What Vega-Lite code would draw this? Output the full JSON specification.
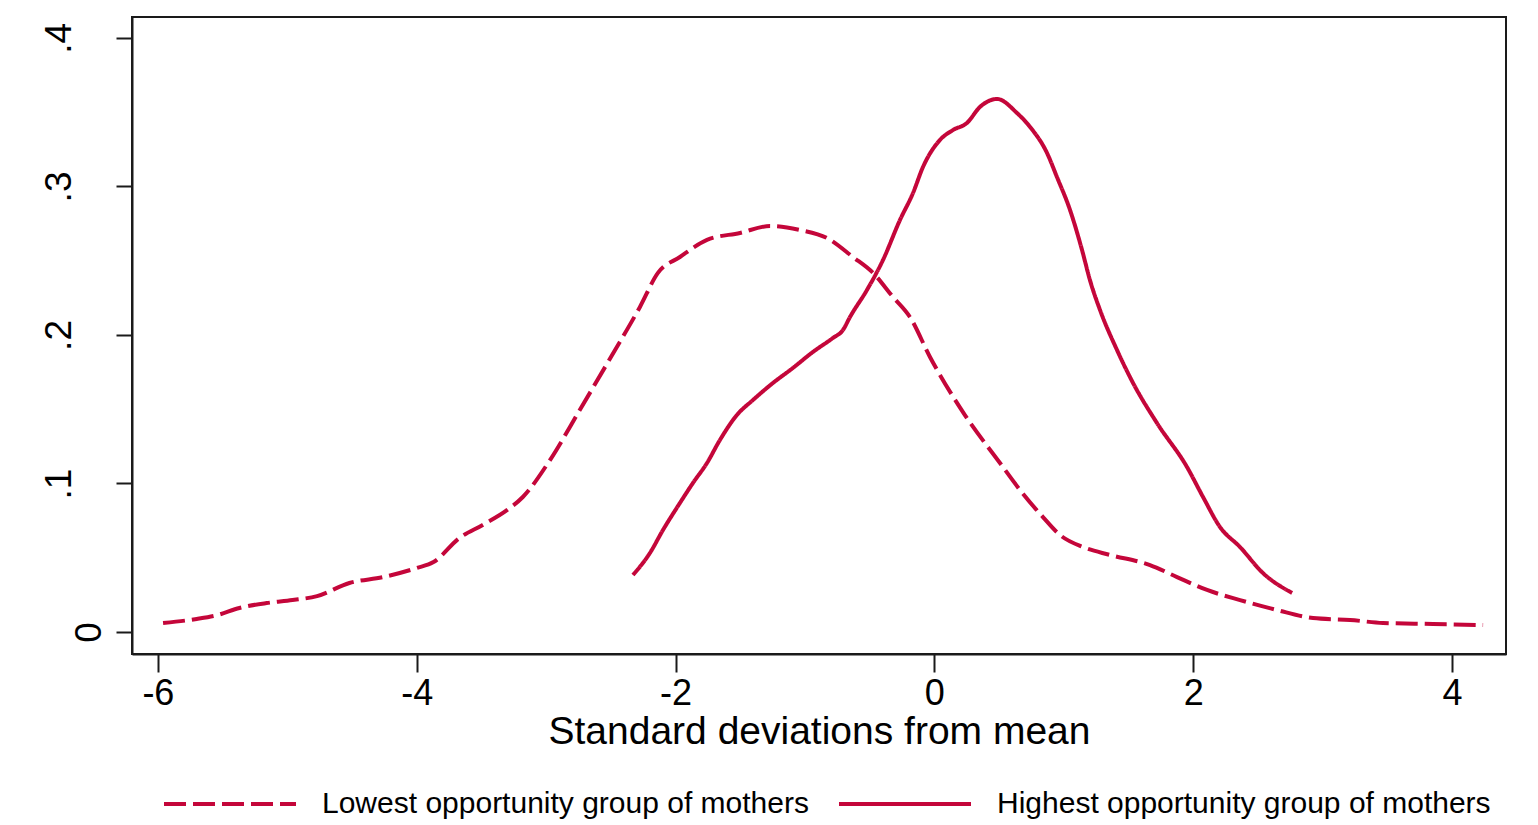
{
  "$schema": "https://vega.github.io/schema/vega-lite/v6.json",
  "width": 1374,
  "height": 637,
  "autosize": {"type": "none"},
  "padding": {"left": 132, "top": 17, "right": 32, "bottom": 171},
  "background": "#ffffff",
  "config": {
    "font": "Liberation Sans",
    "view": {"stroke": "#1a1a1a", "strokeWidth": 2},
    "axis": {"grid": false, "domainColor": "#1a1a1a", "domainWidth": 2, "tickColor": "#1a1a1a", "tickWidth": 2, "labelColor": "#000000", "titleColor": "#000000", "labelFont": "Liberation Sans", "titleFont": "Liberation Sans"},
    "legend": {"labelFont": "Liberation Sans"}
  },
  "data": {
    "values": [
      {"group": "Lowest opportunity group of mothers", "x": -5.96, "y": 0.0061},
      {"group": "Lowest opportunity group of mothers", "x": -5.70, "y": 0.0088},
      {"group": "Lowest opportunity group of mothers", "x": -5.54, "y": 0.0114},
      {"group": "Lowest opportunity group of mothers", "x": -5.37, "y": 0.0162},
      {"group": "Lowest opportunity group of mothers", "x": -5.16, "y": 0.0195},
      {"group": "Lowest opportunity group of mothers", "x": -4.96, "y": 0.0215},
      {"group": "Lowest opportunity group of mothers", "x": -4.77, "y": 0.0242},
      {"group": "Lowest opportunity group of mothers", "x": -4.52, "y": 0.0330},
      {"group": "Lowest opportunity group of mothers", "x": -4.26, "y": 0.0370},
      {"group": "Lowest opportunity group of mothers", "x": -4.00, "y": 0.0431},
      {"group": "Lowest opportunity group of mothers", "x": -3.87, "y": 0.0471},
      {"group": "Lowest opportunity group of mothers", "x": -3.67, "y": 0.0633},
      {"group": "Lowest opportunity group of mothers", "x": -3.49, "y": 0.0721},
      {"group": "Lowest opportunity group of mothers", "x": -3.30, "y": 0.0822},
      {"group": "Lowest opportunity group of mothers", "x": -3.18, "y": 0.0909},
      {"group": "Lowest opportunity group of mothers", "x": -2.97, "y": 0.1158},
      {"group": "Lowest opportunity group of mothers", "x": -2.74, "y": 0.1495},
      {"group": "Lowest opportunity group of mothers", "x": -2.49, "y": 0.1865},
      {"group": "Lowest opportunity group of mothers", "x": -2.275, "y": 0.2189},
      {"group": "Lowest opportunity group of mothers", "x": -2.136, "y": 0.2418},
      {"group": "Lowest opportunity group of mothers", "x": -1.966, "y": 0.2525},
      {"group": "Lowest opportunity group of mothers", "x": -1.757, "y": 0.2640},
      {"group": "Lowest opportunity group of mothers", "x": -1.502, "y": 0.2687},
      {"group": "Lowest opportunity group of mothers", "x": -1.27, "y": 0.2734},
      {"group": "Lowest opportunity group of mothers", "x": -1.039, "y": 0.2707},
      {"group": "Lowest opportunity group of mothers", "x": -0.83, "y": 0.2653},
      {"group": "Lowest opportunity group of mothers", "x": -0.629, "y": 0.2525},
      {"group": "Lowest opportunity group of mothers", "x": -0.474, "y": 0.2418},
      {"group": "Lowest opportunity group of mothers", "x": -0.32, "y": 0.2256},
      {"group": "Lowest opportunity group of mothers", "x": -0.189, "y": 0.2121},
      {"group": "Lowest opportunity group of mothers", "x": -0.034, "y": 0.1852},
      {"group": "Lowest opportunity group of mothers", "x": 0.236, "y": 0.1461},
      {"group": "Lowest opportunity group of mothers", "x": 0.507, "y": 0.1138},
      {"group": "Lowest opportunity group of mothers", "x": 0.662, "y": 0.0956},
      {"group": "Lowest opportunity group of mothers", "x": 0.839, "y": 0.0774},
      {"group": "Lowest opportunity group of mothers", "x": 0.971, "y": 0.0653},
      {"group": "Lowest opportunity group of mothers", "x": 1.148, "y": 0.0572},
      {"group": "Lowest opportunity group of mothers", "x": 1.357, "y": 0.0519},
      {"group": "Lowest opportunity group of mothers", "x": 1.666, "y": 0.0451},
      {"group": "Lowest opportunity group of mothers", "x": 1.875, "y": 0.0370},
      {"group": "Lowest opportunity group of mothers", "x": 2.107, "y": 0.0283},
      {"group": "Lowest opportunity group of mothers", "x": 2.362, "y": 0.0215},
      {"group": "Lowest opportunity group of mothers", "x": 2.648, "y": 0.0148},
      {"group": "Lowest opportunity group of mothers", "x": 2.926, "y": 0.0094},
      {"group": "Lowest opportunity group of mothers", "x": 3.212, "y": 0.0081},
      {"group": "Lowest opportunity group of mothers", "x": 3.467, "y": 0.0061},
      {"group": "Lowest opportunity group of mothers", "x": 3.853, "y": 0.0054},
      {"group": "Lowest opportunity group of mothers", "x": 4.24, "y": 0.0047},
      {"group": "Highest opportunity group of mothers", "x": -2.329, "y": 0.0384},
      {"group": "Highest opportunity group of mothers", "x": -2.198, "y": 0.0532},
      {"group": "Highest opportunity group of mothers", "x": -2.097, "y": 0.0687},
      {"group": "Highest opportunity group of mothers", "x": -1.966, "y": 0.0869},
      {"group": "Highest opportunity group of mothers", "x": -1.866, "y": 0.1003},
      {"group": "Highest opportunity group of mothers", "x": -1.757, "y": 0.1138},
      {"group": "Highest opportunity group of mothers", "x": -1.657, "y": 0.1293},
      {"group": "Highest opportunity group of mothers", "x": -1.526, "y": 0.1461},
      {"group": "Highest opportunity group of mothers", "x": -1.402, "y": 0.1562},
      {"group": "Highest opportunity group of mothers", "x": -1.247, "y": 0.1677},
      {"group": "Highest opportunity group of mothers", "x": -1.093, "y": 0.1778},
      {"group": "Highest opportunity group of mothers", "x": -0.938, "y": 0.1886},
      {"group": "Highest opportunity group of mothers", "x": -0.784, "y": 0.1980},
      {"group": "Highest opportunity group of mothers", "x": -0.706, "y": 0.2034},
      {"group": "Highest opportunity group of mothers", "x": -0.652, "y": 0.2121},
      {"group": "Highest opportunity group of mothers", "x": -0.521, "y": 0.2303},
      {"group": "Highest opportunity group of mothers", "x": -0.397, "y": 0.2505},
      {"group": "Highest opportunity group of mothers", "x": -0.266, "y": 0.2774},
      {"group": "Highest opportunity group of mothers", "x": -0.165, "y": 0.2956},
      {"group": "Highest opportunity group of mothers", "x": -0.088, "y": 0.3131},
      {"group": "Highest opportunity group of mothers", "x": 0.043, "y": 0.3313},
      {"group": "Highest opportunity group of mothers", "x": 0.144, "y": 0.3380},
      {"group": "Highest opportunity group of mothers", "x": 0.252, "y": 0.3428},
      {"group": "Highest opportunity group of mothers", "x": 0.352, "y": 0.3535},
      {"group": "Highest opportunity group of mothers", "x": 0.484, "y": 0.3589},
      {"group": "Highest opportunity group of mothers", "x": 0.638, "y": 0.3495},
      {"group": "Highest opportunity group of mothers", "x": 0.739, "y": 0.3401},
      {"group": "Highest opportunity group of mothers", "x": 0.870, "y": 0.3226},
      {"group": "Highest opportunity group of mothers", "x": 0.947, "y": 0.3064},
      {"group": "Highest opportunity group of mothers", "x": 1.048, "y": 0.2842},
      {"group": "Highest opportunity group of mothers", "x": 1.141, "y": 0.2572},
      {"group": "Highest opportunity group of mothers", "x": 1.202, "y": 0.2370},
      {"group": "Highest opportunity group of mothers", "x": 1.280, "y": 0.2168},
      {"group": "Highest opportunity group of mothers", "x": 1.411, "y": 0.1899},
      {"group": "Highest opportunity group of mothers", "x": 1.535, "y": 0.1677},
      {"group": "Highest opportunity group of mothers", "x": 1.720, "y": 0.1407},
      {"group": "Highest opportunity group of mothers", "x": 1.952, "y": 0.1111},
      {"group": "Highest opportunity group of mothers", "x": 2.076, "y": 0.0909},
      {"group": "Highest opportunity group of mothers", "x": 2.207, "y": 0.0707},
      {"group": "Highest opportunity group of mothers", "x": 2.362, "y": 0.0572},
      {"group": "Highest opportunity group of mothers", "x": 2.539, "y": 0.0397},
      {"group": "Highest opportunity group of mothers", "x": 2.764, "y": 0.0263}
    ]
  },
  "mark": {"type": "line", "color": "#c4063a", "strokeWidth": 4, "interpolate": "monotone"},
  "encoding": {
    "x": {
      "field": "x", "type": "quantitative",
      "scale": {"domain": [-6.2, 4.417], "nice": false, "zero": false},
      "axis": {"values": [-6, -4, -2, 0, 2, 4], "labelExpr": "datum.value < 0 ? '-' + abs(datum.value) : '' + datum.value", "tickSize": 18, "labelFontSize": 36, "labelPadding": 4, "title": "Standard deviations from mean", "titleFontSize": 39, "titleFontWeight": "normal", "titlePadding": 1, "labelFlush": false}
    },
    "y": {
      "field": "y", "type": "quantitative",
      "scale": {"domain": [-0.0148, 0.4141], "nice": false, "zero": false},
      "axis": {"values": [0, 0.1, 0.2, 0.3, 0.4], "labelExpr": "datum.value == 0 ? '0' : replace(format(datum.value, '.1f'), '0.', '.')", "tickSize": 16, "labelFontSize": 37, "labelAngle": -90, "labelAlign": "center", "labelBaseline": "alphabetic", "labelPadding": {"condition": {"test": "datum.value == 0", "value": 16}, "value": 46}, "title": null, "labelFlush": false}
    },
    "strokeDash": {
      "field": "group", "type": "nominal",
      "scale": {"domain": ["Lowest opportunity group of mothers", "Highest opportunity group of mothers"], "range": [[22, 7], [1, 0]]},
      "legend": {"title": null, "orient": "none", "direction": "horizontal", "legendX": 30, "legendY": 719, "symbolType": "stroke", "symbolSize": 17424, "symbolStrokeWidth": 4, "symbolStrokeColor": "#c4063a", "labelFontSize": 30, "labelColor": "#000000", "labelOffset": 24, "columnPadding": 22, "padding": 0, "labelLimit": 700}
    },
    "order": {"field": "x", "type": "quantitative"}
  }
}
